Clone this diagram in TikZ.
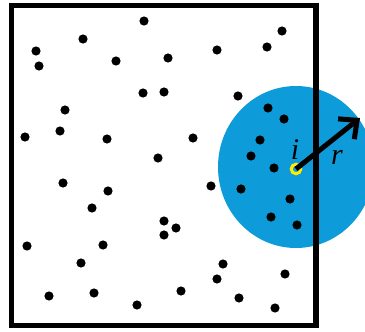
\documentclass[tikz,border=0pt]{standalone}
\usepackage{fontspec}
\setmainfont{Liberation Serif}
\usetikzlibrary{arrows.meta}
\definecolor{disc}{RGB}{14,155,218}
\definecolor{ringyellow}{RGB}{255,236,0}
\begin{document}
\begin{tikzpicture}[x=1pt,y=-1pt,
  particle/.style={fill=black},
  frame/.style={draw=black,line width=5.5pt},
  lab/.style={font=\fontsize{30}{30}\selectfont\itshape,inner sep=0pt}]
\useasboundingbox (0,0) rectangle (365,332);
\fill[disc] (296,167) ellipse [x radius=78, y radius=81];
\foreach \p in {(144,21),(83,39),(36,51),(39,66),(116,61),(168,58),(143,93),(164,92),(65,110),(60,131),(25,137),(107,139),(158,158),
(282,31),(217,50),(267,47),(238,96),(268,108),(284,119),(193,138),(260,140),(251,156),(274,168),
(63,183),(108,191),(92,208),(164,221),(176,228),(164,235),(27,246),(103,245),(81,263),(49,296),(94,293),(137,305),(181,291),
(211,186),(241,189),(290,199),(271,217),(297,225),(223,264),(217,279),(285,274),(239,298),(275,308)}
  \fill[particle] \p circle [radius=4.6];
\draw[frame] (11.5,5.5) rectangle (316,325.5);
\node[draw=ringyellow,line width=3pt,circle,inner sep=0pt,minimum size=9.5pt] (ring) at (296,169) {};
\coordinate (tip) at (360,118);
\draw[line width=5pt,-{Straight Barb[length=14pt,width=26pt]}] (ring.center) -- (tip);
\node[lab] (ilab) at (295,150) {i};
\node[lab] (rlab) at (337,157) {r};
\end{tikzpicture}
\end{document}
